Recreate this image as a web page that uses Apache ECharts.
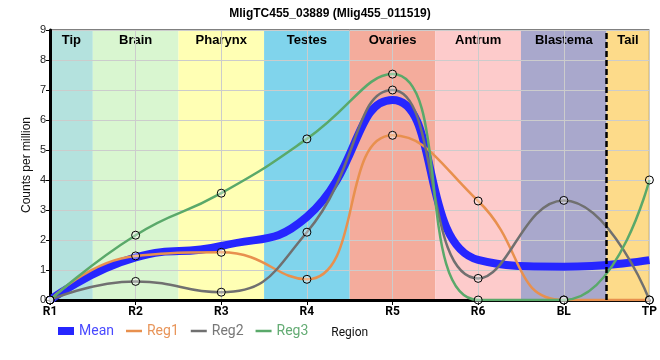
<!DOCTYPE html>
<html><head><meta charset="utf-8">
<script src="https://cdn.jsdelivr.net/npm/echarts@6/dist/echarts.min.js"></script>
<style>html,body{margin:0;padding:0;background:#fff}#c{width:660px;height:360px}</style>
</head><body><div id="c"></div>
<script>
var categories = ['R1','R2','R3','R4','R5','R6','BL','TP'];
var meanValues = [0, 1.42, 1.80, 2.77, 6.67, 1.34, 1.11, 1.33];
var reg1Values = [0, 1.47, 1.59, 0.69, 5.49, 3.30, 0, 0];
var reg2Values = [0, 0.62, 0.26, 2.26, 7.00, 0.72, 3.32, 0];
var reg3Values = [0, 2.16, 3.56, 5.37, 7.53, 0, 0, 4.00];
var bandNames = ['Tip','Brain','Pharynx','Testes','Ovaries','Antrum','Blastema','Tail'];
var bandStart = [0, 0.5, 1.5, 2.5, 3.5, 4.5, 5.5, 6.5];
var bandEnd   = [0.5, 1.5, 2.5, 3.5, 4.5, 5.5, 6.5, 7];
var bandColors = ['#b4e2de','#d9f6d0','#ffffb4','#80d4ec','#f4ac9c','#fdcbcb','#a9a8cc','#fddb8a'];
var yTicks = [0,1,2,3,4,5,6,7,8,9];

function toXY(vals){ return vals.map(function(v,i){ return [i, v]; }); }

var bandData = bandNames.map(function(n,i){ return [bandStart[i], bandEnd[i], i]; });

var chart = echarts.init(document.getElementById('c'), null, {renderer:'canvas'});
var font = 'Liberation Sans, Arial, sans-serif';
var markerStyle = {color:'rgba(255,255,255,0.35)', borderColor:'#000', borderWidth:1};
var lineIcon = 'path://M0,0h16v2.5h-16z';

chart.setOption({
  animation:false,
  title:{text:'MligTC455_03889 (Mlig455_011519)', left:'center', top:3,
    textStyle:{fontFamily:font, fontSize:12, fontWeight:'bold', color:'#000'}},
  grid:{left:50, right:9, top:30, bottom:60, show:true, borderColor:'#000', borderWidth:1, z:2},
  legend:{left:53, top:319, itemWidth:16, itemHeight:8, itemGap:12,
    textStyle:{fontFamily:'Roboto, sans-serif', fontSize:14},
    data:[
      {name:'Mean', icon:'rect', itemStyle:{color:'#2626ff', borderWidth:0}, textStyle:{color:'#4a4aff'}},
      {name:'Reg1', icon:lineIcon, itemStyle:{color:'#e8904e', borderColor:'#e8904e', borderWidth:0}, textStyle:{color:'#e8955a'}},
      {name:'Reg2', icon:lineIcon, itemStyle:{color:'#707070', borderColor:'#707070', borderWidth:0}, textStyle:{color:'#777777'}},
      {name:'Reg3', icon:lineIcon, itemStyle:{color:'#5aa96a', borderColor:'#5aa96a', borderWidth:0}, textStyle:{color:'#64ac74'}}
    ]},
  xAxis:{type:'value', min:0, max:7, interval:1, z:2,
    name:'Region', nameLocation:'middle', nameGap:27,
    nameTextStyle:{fontFamily:'Roboto, sans-serif', fontSize:12, color:'#111'},
    axisLine:{show:true, onZero:false, lineStyle:{color:'#000', width:3}},
    axisTick:{show:true, length:5, lineStyle:{color:'#000', width:1}},
    axisLabel:{margin:6, fontFamily:'Roboto, sans-serif', fontWeight:'bold', fontSize:12, color:'#000',
      formatter:function(v){ return categories[Math.round(v)] || ''; }},
    splitLine:{show:true, lineStyle:{color:'#cccccc', width:1}}},
  yAxis:{type:'value', min:0, max:9, interval:1, z:2,
    name:'Counts per million', nameLocation:'middle', nameGap:17, nameMoveOverlap:false,
    nameTextStyle:{fontFamily:font, fontSize:12, color:'#111'},
    axisLine:{show:true, lineStyle:{color:'#000', width:3}},
    axisTick:{show:true, length:4, lineStyle:{color:'#000', width:1}},
    axisLabel:{margin:4, fontFamily:font, fontSize:11, color:'#222',
      formatter:function(v){ return yTicks.indexOf(v) >= 0 ? String(v) : ''; }},
    splitLine:{show:true, lineStyle:{color:'#cccccc', width:1}}},
  series:[
    {type:'custom', name:'bands', z:1, silent:true, data:bandData,
      encode:{x:[0,1]},
      renderItem:function(params, api){
        var i = api.value(2);
        var p0 = api.coord([api.value(0), 9]);
        var p1 = api.coord([api.value(1), 0]);
        return {type:'group', children:[
          {type:'rect', shape:{x:p0[0], y:p0[1], width:p1[0]-p0[0], height:p1[1]-p0[1]},
            style:{fill:bandColors[i]}},
          {type:'text', x:(p0[0]+p1[0])/2, y:p0[1]+4,
            style:{text:bandNames[i], fill:'#000', font:'bold 13px Liberation Sans, Arial, sans-serif',
              align:'center', verticalAlign:'top'}}
        ]};
      },
      markLine:{silent:true, symbol:'none', label:{show:false},
        lineStyle:{color:'#000', width:2.5, type:[6,3]},
        data:[{xAxis:bandStart[7]}]}
    },
    {type:'line', name:'Mean', z:3, data:toXY(meanValues), smooth:0.5, symbol:'none',
      lineStyle:{color:'#2626ff', width:8}, itemStyle:{color:'#2626ff'}},
    {type:'line', name:'Reg1', z:4, data:toXY(reg1Values), smooth:0.5, symbol:'circle', symbolSize:8,
      lineStyle:{color:'#e8904e', width:2.5}, itemStyle:markerStyle},
    {type:'line', name:'Reg2', z:4, data:toXY(reg2Values), smooth:0.5, symbol:'circle', symbolSize:8,
      lineStyle:{color:'#707070', width:2.5}, itemStyle:markerStyle},
    {type:'line', name:'Reg3', z:4, data:toXY(reg3Values), smooth:0.5, symbol:'circle', symbolSize:8,
      lineStyle:{color:'#5aa96a', width:2.5}, itemStyle:markerStyle}
  ]
});
</script></body></html>
